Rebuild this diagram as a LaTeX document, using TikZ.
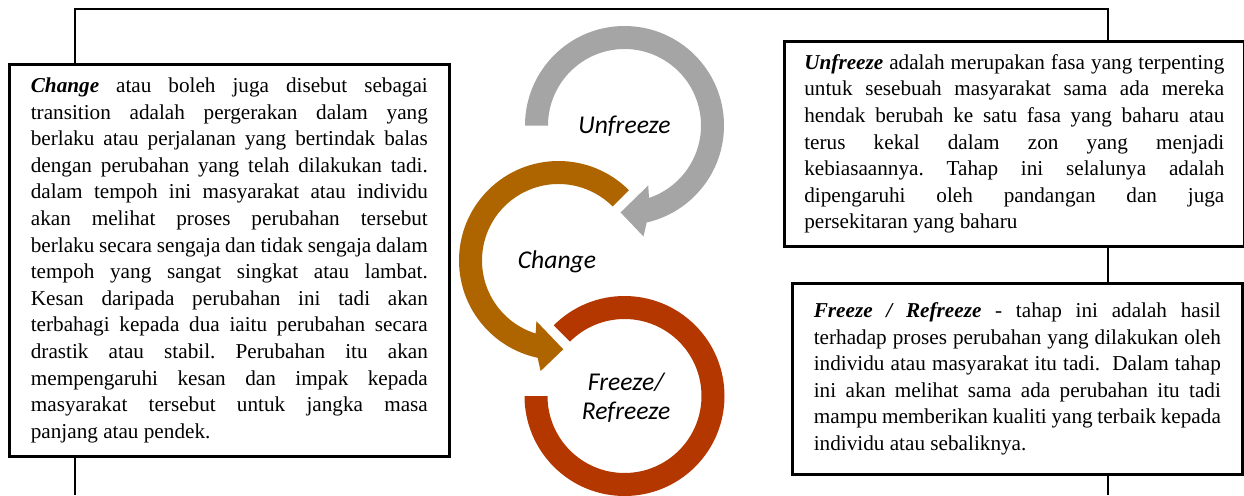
\documentclass[tikz,border=0pt]{standalone}
\usepackage{fontspec}
\setmainfont{Liberation Serif}
\newfontfamily\calibri{Carlito}
\usetikzlibrary{positioning,calc}
\definecolor{unfgray}{HTML}{A5A5A5}
\definecolor{chgbrown}{HTML}{AE6500}
\definecolor{frzred}{HTML}{B43700}
\frenchspacing

\begin{document}
\begin{tikzpicture}[x=0.5pt,y=0.5pt,
        descbox/.style={draw, fill=white, line width=1.35pt, align=justify, anchor=north west,
            font=\fontsize{10.6}{13.3}\selectfont},
        circlabel/.style={align=center, font=\calibri\itshape\fontsize{12.8}{14.5}\selectfont},
        frameline/.style={line width=0.7pt}]
        \useasboundingbox (0,0) rectangle (1244,495);
        \coordinate (tl) at (75,486);
        \coordinate (tr) at (1108,486);
        \coordinate (bl) at (75,0);
        \coordinate (br) at (1108,0);
        \begin{scope}[shift={(624.5,369.5)}]
            \fill[unfgray] (180:99.5) arc[start angle=180, end angle=-77.1, radius=99.5] -- (-80.3:112.6) -- (-92.6:87) -- (-68.4:64.5) -- (-71.3:76.5) arc[start angle=-71.3, end angle=180, radius=76.5] -- cycle;
        \end{scope}
        \begin{scope}[shift={(558.5,234.5)}]
            \fill[chgbrown] (45:99.5) arc[start angle=45, end angle=257.9, radius=99.5] -- (260.8:112) -- (273.1:88.9) -- (250:64.6) -- (252.6:76.5) arc[start angle=252.6, end angle=45, radius=76.5] -- cycle;
        \end{scope}
        \begin{scope}[shift={(624.5,99)}]
            \fill[frzred] (135:100) arc[start angle=135, end angle=-180, radius=100] -- (-180:77) arc[start angle=-180, end angle=135, radius=77] -- cycle;
        \end{scope}
        \node[circlabel] (unf) at (624.5,369) {Unfreeze};
        \node[circlabel] (chg) at (557,233) {Change};
        \node[circlabel] (frz) at (626,97.5) {Freeze/\\Refreeze};
        \node[descbox, text width=198.5pt, minimum width=220pt, minimum height=196pt] (chgbox) at (8,432) {\textbf{\textit{Change}} atau boleh juga disebut sebagai\linebreak transition adalah pergerakan dalam yang\linebreak berlaku atau perjalanan yang bertindak balas\linebreak dengan perubahan yang telah dilakukan tadi.\linebreak dalam tempoh ini masyarakat atau individu\linebreak akan melihat proses perubahan tersebut\linebreak berlaku secara sengaja dan tidak sengaja dalam\linebreak tempoh yang sangat singkat atau lambat.\linebreak Kesan daripada perubahan ini tadi akan\linebreak terbahagi kepada dua iaitu perubahan secara\linebreak drastik atau stabil. Perubahan itu akan\linebreak mempengaruhi kesan dan impak kepada\linebreak masyarakat tersebut untuk jangka masa\linebreak panjang atau pendek.};
        \node[descbox, text width=210pt, minimum width=230pt, minimum height=102.5pt] (unfbox) at (783,455) {\textbf{\textit{Unfreeze}} adalah merupakan fasa yang terpenting\linebreak untuk sesebuah masyarakat sama ada mereka\linebreak hendak berubah ke satu fasa yang baharu atau\linebreak terus kekal dalam zon yang menjadi\linebreak kebiasaannya. Tahap ini selalunya adalah\linebreak dipengaruhi oleh pandangan dan juga\linebreak persekitaran yang baharu};
        \node[descbox, text width=203.5pt, minimum width=225pt, minimum height=95.5pt] (frzbox) at (791,213) {\textbf{\textit{Freeze / Refreeze}} - tahap ini adalah hasil\linebreak terhadap proses perubahan yang dilakukan oleh\linebreak individu atau masyarakat itu tadi.\ \ Dalam tahap\linebreak ini akan melihat sama ada perubahan itu tadi\linebreak mampu memberikan kualiti yang terbaik kepada\linebreak individu atau sebaliknya.};
        \draw[frameline] (chgbox.north -| tl) -- (tl) -- (tr) -- (unfbox.north -| tr);
        \draw[frameline] (unfbox.south -| tr) -- (frzbox.north -| tr);
        \draw[frameline] (frzbox.south -| br) -- (br);
        \draw[frameline] (chgbox.south -| bl) -- (bl);
    \end{tikzpicture}
\end{document}
